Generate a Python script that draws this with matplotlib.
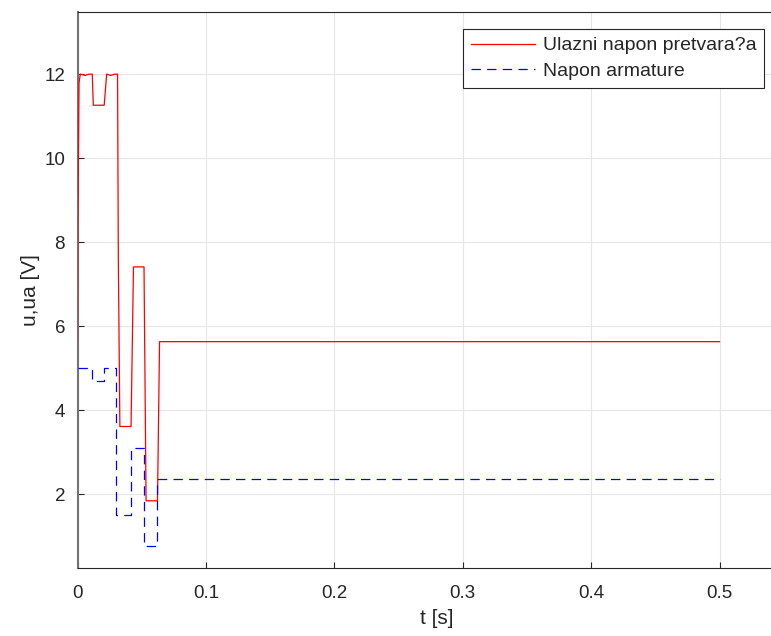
import matplotlib
matplotlib.use("Agg")
import matplotlib.pyplot as plt

plt.rcParams['font.family'] = ['Liberation Sans', 'DejaVu Sans']

# Input converter voltage (red) breakpoints
red_t = [0.0, 0.0003, 0.0012, 0.0022, 0.006, 0.009, 0.0115, 0.0123, 0.0208, 0.0227,
         0.026, 0.029, 0.0312, 0.0318, 0.0330, 0.0417, 0.0436, 0.0518, 0.0534,
         0.0623, 0.0639, 0.5]
red_v = [5.69, 8.5, 11.8, 12.0, 11.97, 12.0, 12.0, 11.26, 11.26, 12.0,
         11.97, 12.0, 12.0, 7.6, 3.61, 3.61, 7.41, 7.41, 1.84,
         1.84, 5.63, 5.63]

# Armature voltage (blue dashed) breakpoints
blue_t = [0.0, 0.0112, 0.0112, 0.0210, 0.0210, 0.0302, 0.0302, 0.0417, 0.0417,
          0.0516, 0.0516, 0.0622, 0.0622, 0.5]
blue_v = [5.0, 5.0, 4.7, 4.7, 5.0, 5.0, 1.5, 1.5, 3.1,
          3.1, 0.77, 0.77, 2.36, 2.36]

series_labels = ['Ulazni napon pretvara?a', 'Napon armature']
x_ticks = [0, 0.1, 0.2, 0.3, 0.4, 0.5]
x_tick_labels = ['0', '0.1', '0.2', '0.3', '0.4', '0.5']
y_ticks = [2, 4, 6, 8, 10, 12]

W, H = 771, 636
fig = plt.figure(figsize=(W / 100, H / 100), dpi=100)
left_px, top_px, bottom_px = 77.5, 12, 568
px_per_unit = 1284.0
xmax = 0.56
width_px = xmax * px_per_unit
ax = fig.add_axes([left_px / W, (H - bottom_px) / H, width_px / W, (bottom_px - top_px) / H])

ax.plot(red_t, red_v, color=(1, 0, 0), lw=0.9, label=series_labels[0], zorder=3)
ax.plot(blue_t, blue_v, color=(0, 0, 1), lw=0.9, ls=(0, (7.5, 5)), label=series_labels[1], zorder=3)

ax.set_xlim(0, xmax)
ax.set_ylim(0.24, 13.48)
ax.set_xticks(x_ticks)
ax.set_xticklabels(x_tick_labels)
ax.set_yticks(y_ticks)

dark = (0.15, 0.15, 0.15)
ax.grid(True, color='#e6e6e6', lw=0.8, zorder=0)
ax.set_axisbelow(True)
ax.spines['right'].set_visible(False)
for s in ['left', 'bottom', 'top']:
    ax.spines[s].set_color(dark)
    ax.spines[s].set_linewidth(0.8)
ax.spines['left'].set_color((0.45, 0.45, 0.45))
ax.spines['left'].set_linewidth(1.5)
ax.tick_params(direction='in', length=4, width=0.8, colors=dark, labelsize=13.5,
               top=False, right=False)
ax.tick_params(axis='x', pad=12)
ax.tick_params(axis='y', pad=9)
ax.set_xlabel('t [s]', fontsize=15, color=dark, labelpad=5)
ax.set_ylabel('u,ua [V]', fontsize=15, color=dark, labelpad=3)

leg = ax.legend(loc='upper right', bbox_to_anchor=(764 / W, 1 - 29 / H),
                bbox_transform=fig.transFigure, fancybox=False, framealpha=1,
                edgecolor=dark, fontsize=14, handlelength=3.3, borderaxespad=0,
                borderpad=0.4, labelspacing=0.42, handletextpad=0.4)
leg.get_frame().set_linewidth(0.8)
for t in leg.get_texts():
    t.set_color(dark)

fig.savefig('out.png', dpi=100)
